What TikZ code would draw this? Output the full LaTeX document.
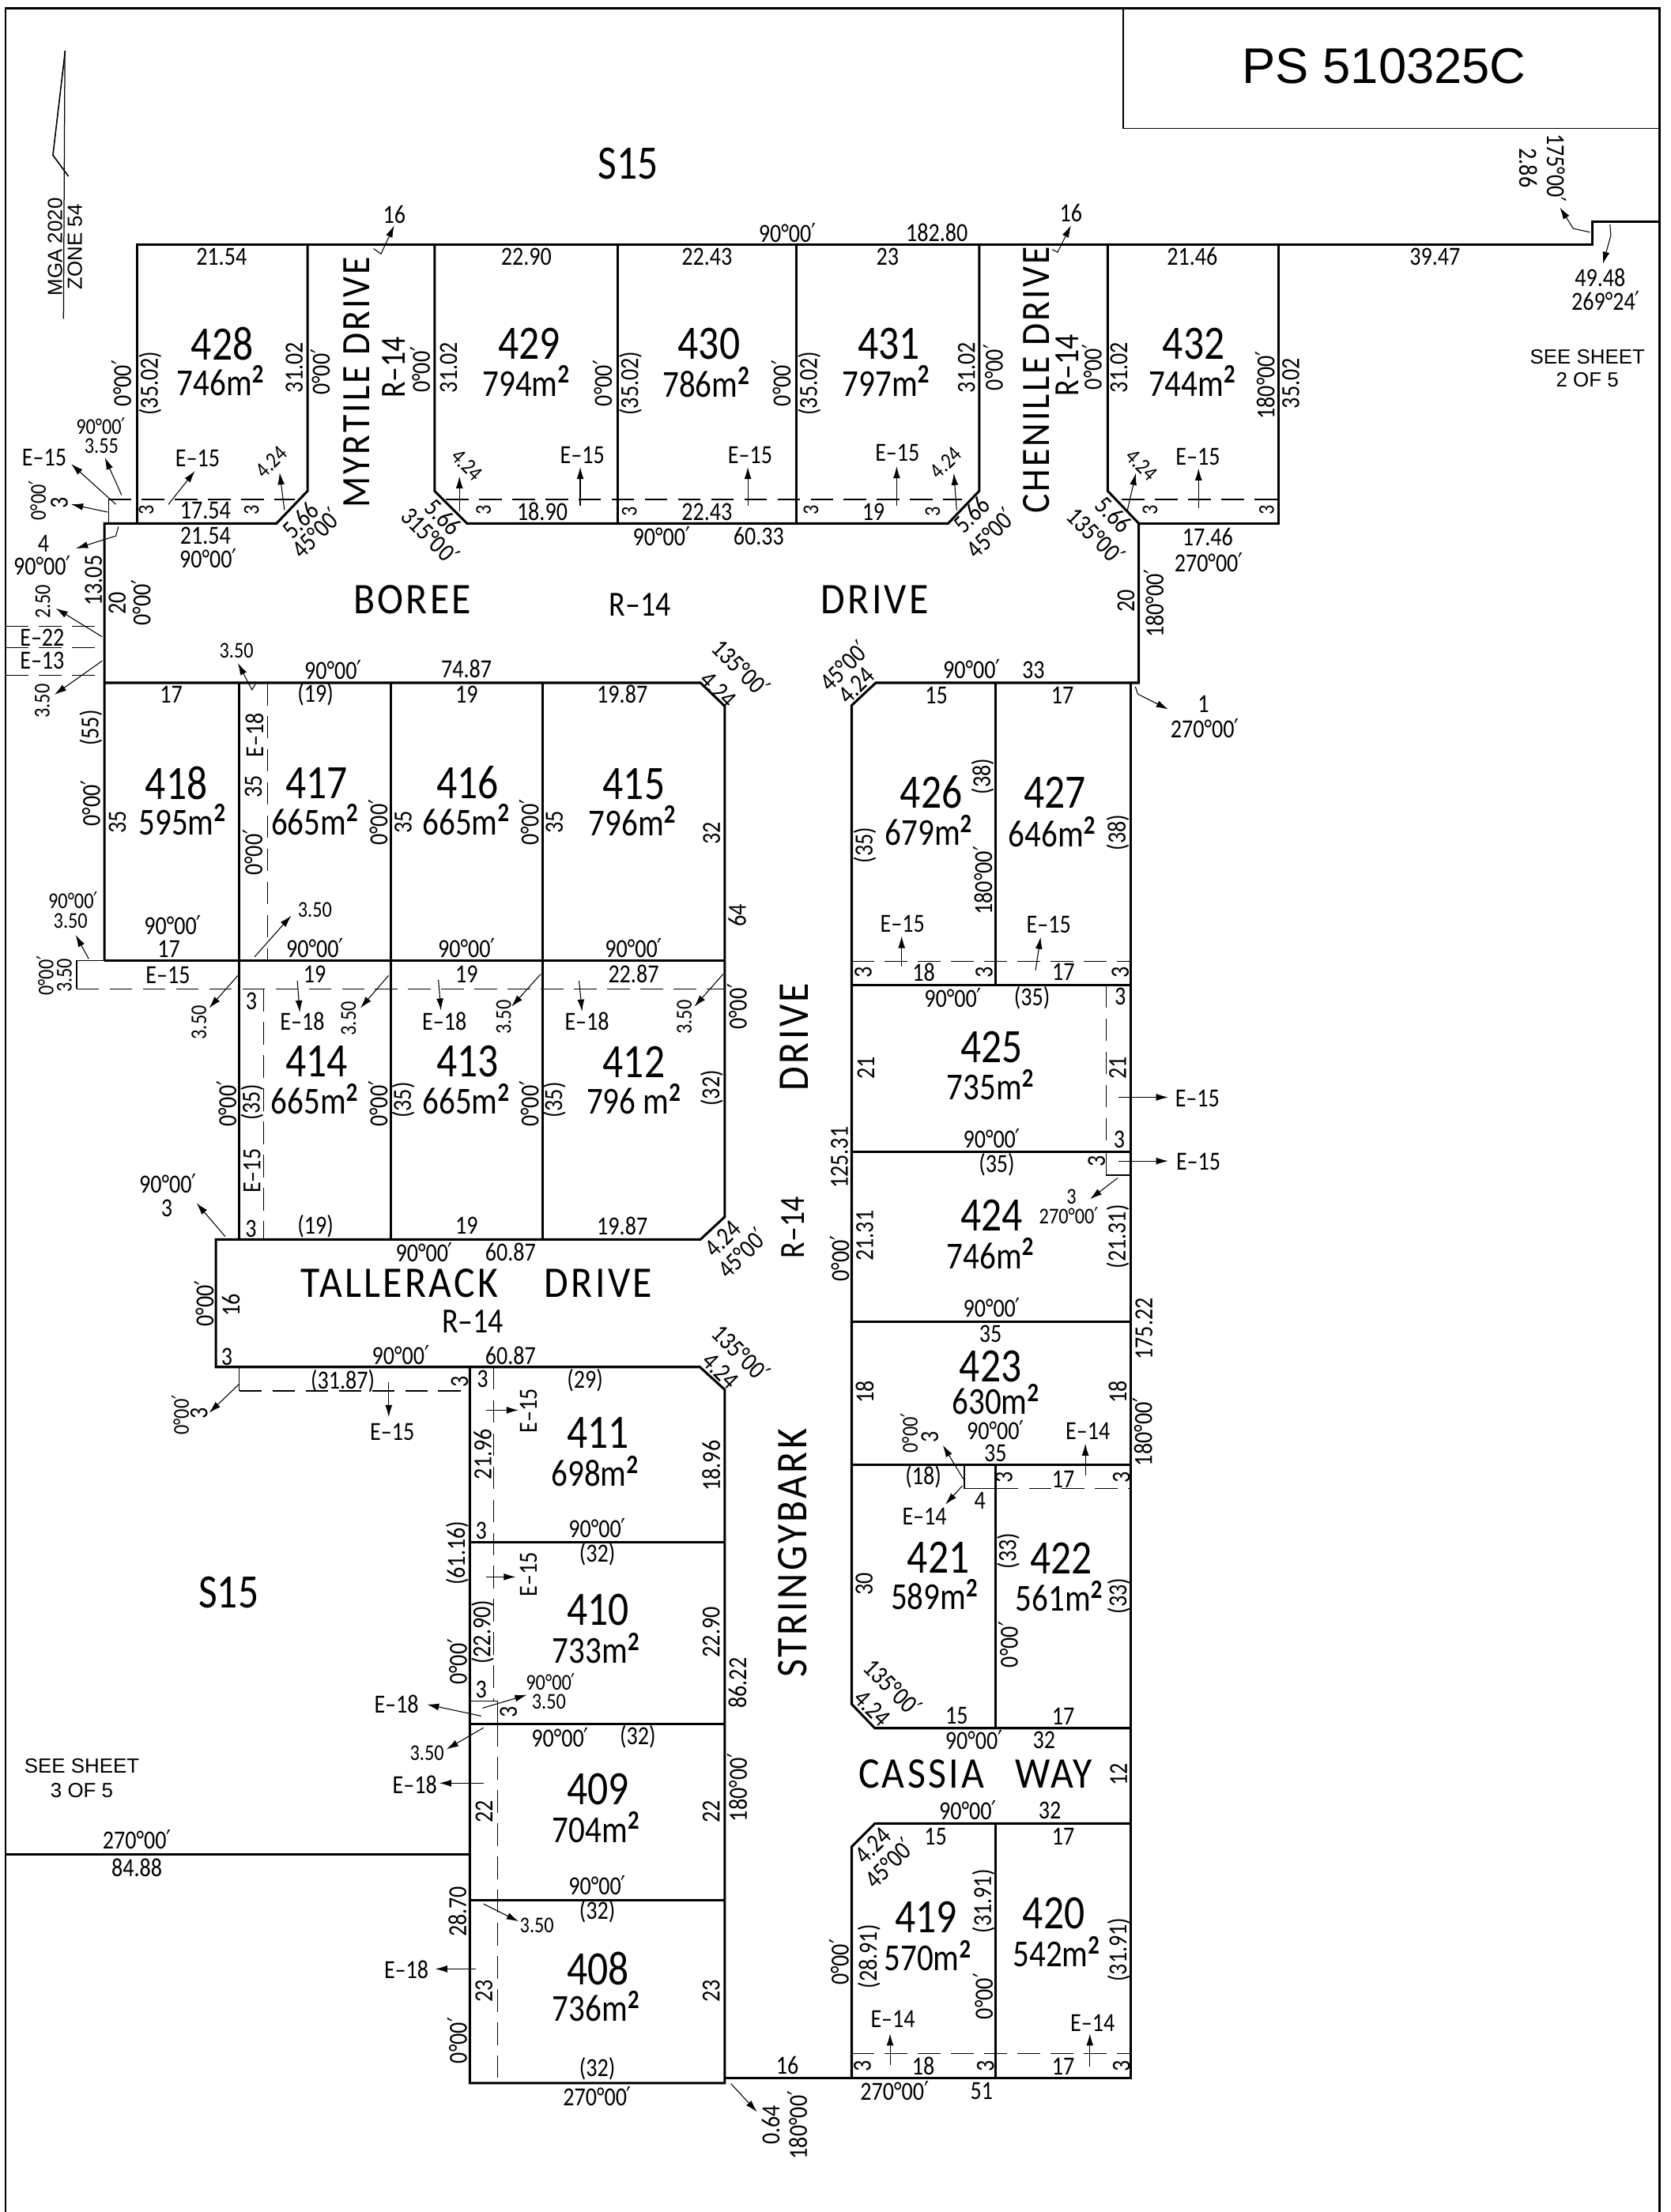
\documentclass[tikz,border=0pt]{standalone}
\usepackage{fontspec}
\usepackage{newunicodechar}
\usetikzlibrary{arrows.meta}
\setmainfont{Liberation Sans}
\newfontfamily\cadfont[FakeStretch=0.85,Ligatures=TeX]{Carlito}
\newfontfamily\cadwide[FakeStretch=0.9,LetterSpace=6,Ligatures=TeX]{Carlito}
\newfontfamily\primefont[FakeStretch=0.8]{DejaVu Sans}
\newunicodechar{′}{{\primefont\char"2032\relax}}
\newcommand{\msq}{m\textsuperscript{\textbf{2}}}
\tikzset{
  lotline/.style={line width=1.7pt,line join=miter},
  thinline/.style={line width=.7pt},
  easeline/.style={line width=.7pt,dash pattern=on 16pt off 7.5pt},
  ldr/.style={line width=.6pt,-{Latex[length=8.5pt,width=5pt]}},
  txt/.style={inner sep=0pt},
  dim/.style={txt,font=\cadfont\fontsize{18.5}{18.5}\selectfont},
  small/.style={txt,font=\cadfont\fontsize{16}{16}\selectfont},
  lotno/.style={txt,font=\cadfont\fontsize{34}{34}\selectfont},
  lotarea/.style={txt,font=\cadfont\fontsize{27}{27}\selectfont},
  road/.style={txt,font=\cadwide\fontsize{31}{31}\selectfont},
  roadn/.style={txt,font=\cadwide\fontsize{28.5}{28.5}\selectfont},
  roadw/.style={txt,font=\cadfont\fontsize{25}{25}\selectfont},
  note/.style={txt,font=\fontsize{14.5}{14.5}\selectfont},
}
\begin{document}
\begin{tikzpicture}[x=1pt,y=-1pt]
  \useasboundingbox (0,0) rectangle (1184,1568);
  \draw[line width=1.5pt] (4,1568)--(4,6)--(1176,6)--(1176,1568); % sheet
  \draw[thinline] (796,6)--(796,91)--(1176,91);
  \node[txt,font=\fontsize{35.5}{35.5}\selectfont] at (981,47){PS 510325C};
  % north point
  \draw[thinline] (46,36)--(45,226);
  \draw[line width=.9pt] (46.2,36)--(37.5,110)--(48.5,125);
  \node[note,rotate=90] at (39,175){MGA 2020};
  \node[note,rotate=90] at (53,175){ZONE 54};
  \node[note] at (1125,253){SEE SHEET};
  \node[note] at (1125,269){2 OF 5};
  \node[note] at (58,1252){SEE SHEET};
  \node[note] at (58,1269){3 OF 5};
  \node[lotno] at (445,116){S15};
  \node[lotno] at (162,1129){S15};
  % lots
  \draw[lotline] (97,371)--(97,173.5)--(1128.5,173.5)--(1128.5,157)--(1176,157);
  \draw[lotline] (74,681)--(74,371)--(196,371)--(218,348)--(218,173.5);
  \draw[lotline] (308,173.5)--(308,348)--(331,371)--(672,371)--(694,348)--(694,173.5);
  \draw[lotline] (785,173.5)--(785,348)--(807,371)--(807,484)--(620.7,484)--(603.6,500)--(603.6,1208)--(620,1225)--(801.5,1225);
  \draw[lotline] (906,173.5)--(906,371)--(807,371);
  \draw[lotline] (438,173.5)--(438,371);
  \draw[lotline] (564.5,173.5)--(564.5,371);
  \draw[lotline] (74,484)--(496.4,484)--(513.6,500.5)--(513.6,862.6)--(496.4,878.6)--(153,878.6)--(153,969)--(496,969)--(513.6,985)--(513.6,1476.6)--(333,1476.6)--(333,969);
  \draw[lotline] (74,681)--(513.6,681);
  \foreach \x in {169.6,277,384.6}{
    \draw[lotline] (\x,484)--(\x,878.6);
  }
  \foreach \y in {1093,1222,1347}{
    \draw[lotline] (333,\y)--(513.6,\y);
  }
  \draw[lotline] (4,1314.6)--(333,1314.6);
  \draw[lotline] (513.6,1473)--(801.5,1473)--(801.5,484);
  \draw[lotline] (801.5,1292.6)--(620,1292.6)--(603.6,1309)--(603.6,1473);
  \foreach \y in {698.4,816.6,937,1038.4}{
    \draw[lotline] (603.6,\y)--(801.5,\y);
  }
  \draw[lotline] (705.6,484)--(705.6,698.4);
  \draw[lotline] (705.6,1038.4)--(705.6,1225);
  \draw[lotline] (705.6,1292.6)--(705.6,1473);
  % easements
  \draw[thinline] (77,371)--(77,354);
  \draw[easeline] (77,354)--(209,354);
  \draw[easeline] (316,354)--(682,354);
  \draw[easeline] (795,354)--(906,354);
  \foreach \y in {444,459,478.5}{
    \draw[easeline] (4,\y)--(74,\y);
  }
  \draw[easeline] (189.6,484)--(189.6,681);
  \draw[thinline] (74,681)--(54.3,681)--(54.3,701);
  \draw[easeline] (54.3,701)--(513.6,701);
  \draw[easeline] (186.8,701)--(186.8,878.6);
  \draw[thinline] (169.6,969)--(169.6,986);
  \draw[easeline] (169.6,986)--(333,986);
  \draw[easeline] (349.8,969)--(349.8,1205.8);
  \draw[thinline] (333,1205.8)--(352.5,1205.8)--(352.5,1222);
  \draw[easeline] (352.5,1222)--(352.5,1476.6);
  \draw[easeline] (784,698.4)--(784,816.6);
  \draw[thinline] (784,816.6)--(784,833)--(801.5,833);
  \draw[easeline] (603.6,681.6)--(801.5,681.6);
  \draw[thinline] (683.5,1038.4)--(683.5,1055)--(705.6,1055);
  \draw[easeline] (705.6,1055)--(801.5,1055);
  \draw[easeline] (603.6,1455.6)--(801.5,1455.6);
  % lot numbers and areas
  \foreach \x/\y/\n/\xa/\ya/\a in {
    157.5/243.7/428/156.4/270/746, 374.9/243.7/429/373/270/794,
    502.5/243.7/430/500.6/270.7/786, 629.8/243.7/431/628/270/797,
    846/243.7/432/845/270/744, 125/555/418/129.3/581/595,
    224.3/555/417/223.2/581/665, 331.4/555/416/330.4/581/665,
    449.3/555.8/415/448.2/582/796, 224.3/752.6/414/223/779/665,
    331.4/752.6/413/330.4/779/665, 449.3/752.6/412/449.3/779/796\ ,
    660/561.7/426/658.2/588.5/679, 747.5/561.7/427/745.7/589.6/646,
    702.9/742/425/702/768.9/735, 702.9/861.7/424/702/888.5/746,
    702/968.5/423/705.7/992/630, 665/1104/421/662.3/1130.2/589,
    752/1104.7/422/750.7/1131.3/561, 423.7/1015.8/411/421.7/1042.8/698,
    423.7/1141.4/410/422.5/1168.4/733, 423.7/1268.2/409/422.5/1295.2/704,
    423.7/1395.7/408/422.5/1422/736, 656.4/1359/419/657.6/1386.4/570,
    746.8/1356.4/420/748.8/1383.4/542}{
    \node[lotno] at (\x,\y){\n};
    \node[lotarea] at (\xa,\ya){\a\msq};
  }
  % road names
  \node[roadn,rotate=90] at (253,271){MYRTILE DRIVE};
  \node[roadn,rotate=90] at (734.3,269.5){CHENILLE DRIVE};
  \node[road] at (292.3,425){BOREE};
  \node[road] at (620,425){DRIVE};
  \node[road,rotate=90] at (563,735){DRIVE};
  \node[road,rotate=90] at (562,1101){STRINGYBARK};
  \node[road] at (283.2,909.5){TALLERACK};
  \node[road] at (424,909.5){DRIVE};
  \node[road] at (653,1257.7){CASSIA};
  \node[road] at (746.8,1257.7){WAY};
  \node[roadw] at (453.6,428.6){R--14};
  \node[roadw] at (335,936.6){R--14};
  \node[roadw,rotate=90] at (279,260.5){R--14};
  \node[roadw,rotate=90] at (756.3,259){R--14};
  \node[roadw,rotate=90] at (562,870){R--14};
  % level dimensions
  \foreach \x/\y/\t in {
    157/182/21.54, 373/182/22.90, 501/182/22.43, 629/182/23, 845/182/21.46, 1017/182/39.47,
    558/165/90°00′, 664/165/182.80, 279.5/152/16, 759/151/16, 1134/197/49.48, 1138/213/269°24′,
    412.7/322.5/E--15, 531.6/322.5/E--15, 636/321/E--15, 849/324/E--15, 140/324.8/E--15, 31.4/324.2/E--15,
    30.8/385.5/4, 29.9/401/90°00′,
    145.6/362/17.54, 145.6/379.9/21.54, 147.5/395.7/90°00′,
    384.3/362.7/18.90, 501/362.7/22.43, 468.8/380/90°00′, 537.7/380/60.33, 619/362.7/19,
    855.9/380.4/17.46, 856.6/398.7/270°00′,
    29.9/451.7/E--22, 29.9/468.2/E--13, 236/474.7/90°00′, 330.6/474.3/74.87,
    688.7/474.3/90°00′, 732.4/475/33,
    121.4/492.3/17, 223.6/492.3/(19), 330.7/492.3/19, 441/492.3/19.87,
    122.5/655.5/90°00′, 119.6/672.6/17, 119/691.5/E--15,
    223.2/672.2/90°00′, 330.7/672.2/90°00′, 449/672.2/90°00′,
    223/690.5/19, 330.7/690.5/19, 449/690.5/22.87,
    214.3/723.8/E--18, 315/723.8/E--18, 416/723.8/E--18,
    119/839.2/90°00′, 118.2/856.2/3, 177.9/870.8/3, 223.6/869/(19), 330.7/869/19, 441/869/19.87,
    300.7/887.5/90°00′, 361.8/887.5/60.87, 160.7/962/3, 283.9/960.7/90°00′, 361.8/960.7/60.87,
    242.9/979/(31.87), 342/977.7/3, 414.6/978.3/(29), 278/1015/E--15, 178.2/709.5/3,
    341/1085/3, 423.3/1083.3/90°00′, 423.3/1102/(32), 341/1197.7/3,
    281/1208.2/E--18, 397/1231.4/90°00′, 452/1231.4/(32), 294/1265.2/E--18,
    423.3/1336.5/90°00′, 423.3/1355/(32), 288/1396/E--18,
    423.3/1466.6/(32), 423.3/1485.8/270°00′, 558/1464/16,
    663.6/492.8/15, 752.9/492.8/17, 852.9/499.2/1, 853.9/516.4/270°00′,
    639.6/654.6/E--15, 743.2/655.6/E--15, 654.6/689.2/18, 753.6/689.2/17,
    675.4/707.4/90°00′, 731.4/707.4/(35), 793.9/706.4/3, 848.6/778.5/E--15,
    702.9/807/90°00′, 793.2/808/3, 706.4/825.3/(35), 849.3/823.5/E--15,
    702.9/927/90°00′, 702/945.5/35, 705.5/1013.5/90°00′, 705.5/1030/35,
    771/1014.6/E--14, 654.4/1047/(18), 655.2/1075/E--14, 694.5/1063.8/4, 753.5/1048.4/17,
    678/1216.4/15, 753.5/1216.4/17, 690.2/1233.3/90°00′, 740/1233.3/32,
    685.9/1283.2/90°00′, 744/1283.2/32, 663/1302/15, 753.5/1302/17,
    632.8/1431.4/E--14, 774.3/1434/E--14, 654.4/1464.7/18, 753.5/1464.7/17,
    634/1482/270°00′, 695.7/1482/51, 97/1304/270°00′, 97/1324/84.88}{
    \node[dim] at (\x,\y){\t};
  }
  \foreach \x/\y/\t in {
    71.9/316/3.55, 71.5/302/90°00′, 51.8/638.3/90°00′, 50/653/3.50, 167.6/461/3.50,
    223.2/644.7/3.50, 380.5/1364.6/3.50, 302.6/1242.7/3.50, 390.3/1192/90°00′, 389/1206.3/3.50,
    759.3/848.5/3, 757.5/861.7/270°00′}{
    \node[small] at (\x,\y){\t};
  }
  % dimensions along verticals
  \foreach \x/\y/\t in {
    86.3/271.7/0°00′, 106.4/271.7/(35.02), 208.6/260.5/31.02, 227/263.7/0°00′, 298/262/0°00′,
    318/260.5/31.02, 427/271.7/0°00′, 446.8/271.7/(35.02), 553.6/271.7/0°00′, 573.6/271.7/(35.02),
    685/260.5/31.02, 704/260.5/0°00′, 774/260/0°00′, 793/260.5/31.02, 896.5/273/180°00′, 914.8/271.7/35.02,
    42/356.5/3, 66.3/411.6/13.05, 83/427.5/20, 100/427/0°00′,
    798/426/20, 817.9/427.7/180°00′,
    64.3/516/(55), 64.3/569.3/0°00′, 83.2/583/35, 180.4/521/E--18, 179.6/557.5/35, 179.3/604.3/0°00′,
    267.9/583/0°00′, 285.7/583/35, 375/583/0°00′, 392.9/583/35, 504.3/590.7/32, 522.5/649/64,
    160.7/782.5/0°00′, 178.6/781.5/(35), 178.6/830/E--15, 267.9/782.5/0°00′, 285.7/779.8/(35),
    375/782.5/0°00′, 392.9/779.8/(35), 504.3/771.3/(32), 522.5/713.6/0°00′,
    144.6/924/0°00′, 163.6/925/16, 141/1002/3, 325.7/979.4/3,
    374.5/1000/E--15, 342/1030.8/21.96, 504/1039/18.96, 324/1101/(61.16), 374.5/1116/E--15,
    342/1157/(22.90), 504/1157/22.90, 522.7/1193/86.22, 324.2/1178/0°00′, 360.4/1213.8/3,
    522.7/1267/180°00′, 343/1284/22, 504/1284/22, 324.2/1355/28.70, 343/1411.5/23, 504/1411.5/23,
    324.2/1446.4/0°00′, 546.3/1506.4/0.64, 565.2/1506.4/180°00′,
    696.4/550.3/(38), 792.1/590.3/(38), 612.9/599.2/(35), 696.4/624.2/180°00′,
    611.8/689.2/3, 697.5/689.2/3, 793.9/689.2/3, 613.6/757/21, 792.1/757/21, 595/820.6/125.31,
    777.1/823/3, 612.9/876/21.31, 792.1/876.7/(21.31), 595/892/0°00′, 810.7/942/175.22,
    612.9/986.7/18, 792.1/986.7/18, 809.7/1015/180°00′, 659/1018.8/3,
    711.4/1047/3, 794.8/1047/3, 714.6/1099.4/(33), 792.8/1131.3/(33), 612.4/1122.7/30, 714.6/1165.8/0°00′,
    792.8/1257.7/12, 696.9/1347.7/(31.91), 792.8/1382/(31.91), 615.9/1387/(28.91), 594.7/1390.9/0°00′,
    696.9/1415/0°00′, 611.2/1464.7/3, 698.5/1464.7/3, 794.8/1464.7/3}{
    \node[dim,rotate=90] at (\x,\y){\t};
  }
  \foreach \x/\y/\t in {
    26.7/354.7/0°00′, 30.4/426.5/2.50, 30/497/3.50, 32.1/691.5/0°00′, 45.7/691.5/3.50,
    141/724.8/3.50, 247/722/3.50, 357/721/3.50, 485/721/3.50, 128/1003/0°00′, 644.6/1015.8/0°00′,
    103.6/361.6/3, 178.3/361.6/3, 342.7/361.7/3, 446/362.7/3, 574.8/361.7/3, 661/362.7/3, 815/361.7/3, 897.7/361.7/3}{
    \node[small,rotate=90] at (\x,\y){\t};
  }
  \node[dim,rotate=-90] at (1103,119){175°00′};
  \node[dim,rotate=-90] at (1083,119){2.86};
  % dimensions along the splays
  \foreach \x/\y/\t/\a in {
    212.8/368.7/5.66/45, 224/378/45°00′/45,
    314.3/366.6/5.66/-45, 304.8/379.4/315°00′/-45,
    688.7/365/5.66/45, 702/377.8/45°00′/45,
    789.4/365/5.66/-45, 776.8/379.4/135°00′/-45,
    525/473/135°00′/-45, 509/489/4.24/-45, 598/472/45°00′/45, 607/486/4.24/45,
    512.5/878/4.24/45, 525.7/888.4/45°00′/45, 525/959/135°00′/-45, 510.7/971.6/4.24/-45,
    632.8/1195.8/135°00′/-45, 618/1210.8/4.24/-45, 619/1308.3/4.24/45, 630/1320.7/45°00′/45}{
    \node[dim,rotate=\a] at (\x,\y){\t};
  }
  \foreach \x/\y/\a in {192.3/327.6/45, 331/329.6/-45, 670.4/328/45, 809/329.6/-45}{
    \node[small,rotate=\a] at (\x,\y){4.24};
  }
  % leaders
  \foreach \xa/\ya/\xb/\yb in {
    411.2/358.5/411.2/331, 530/358.5/530/331, 635.5/358.5/635.5/330.5, 849.4/360/849.4/332,
    119.3/357.6/138.2/333.8, 82.1/357.5/50.4/328.9, 86.2/351/74.3/324.4, 76.2/363/50.4/357.5,
    201.6/361.6/198.2/335, 325.6/362.4/325.6/337.6, 678/361.7/676/335.4, 799/361.7/805/335.4,
    72.4/451.4/39.6/431.2, 72.4/468.5/38.6/492.4,
    62.9/679.7/53.6/662.7, 180.4/678.3/206.4/649, 168.6/691.5/148.2/714.6, 275.4/691.5/255.4/714.6,
    383.2/690.5/362.5/713.6, 512.5/690.5/492.1/713.6, 210.7/695.3/212.5/717.7, 310.7/694.6/312.5/716.3,
    410.4/695.3/412.5/717, 159.6/876.5/139.3/852.8, 169.6/981/148.2/1001.5,
    275.5/980/275.5/1004.5, 344.7/999.6/367.5/999.6, 344.7/1117.8/365.5/1117.8,
    342/1210.8/373.4/1201.4, 341/1216.4/302.6/1208.2, 342.7/1224.7/316.4/1240, 342.7/1264/311.3/1264,
    342.7/1349.6/367.5/1362, 337.2/1395.7/308.5/1395.7, 518/1477/536.5/1497,
    639/685/639/663.5, 733.9/687.8/737.5/664.2, 792.9/777.8/827.9/777.8, 792.9/823/827.9/823,
    792.1/835/772.5/850, 769.2/1045.8/769.2/1023.3, 682.7/1048.4/668.2/1024.4, 682/1053.3/670/1066.4,
    630.8/1464/630.8/1441.5, 772.4/1465/772.4/1441.5}{
    \draw[ldr] (\xa,\ya)--(\xb,\yb);
  }
  \draw[ldr] (264.7,176.2)--(270,180)--(279.4,159.8);
  \draw[ldr] (745.7,176.8)--(749.5,178.8)--(759,159.8);
  \draw[ldr] (1126.8,164.6)--(1115,162)--(1105.5,147);
  \draw[ldr] (1141,159)--(1141.6,167)--(1136,187);
  \draw[ldr] (84,373.3)--(82.1,379.9)--(53.8,388.8);
  \draw[ldr] (181,485)--(178.6,489)--(168.6,470);
  \draw[ldr] (804.6,486.7)--(806.4,492)--(827.9,502.8);
\end{tikzpicture}
\end{document}
